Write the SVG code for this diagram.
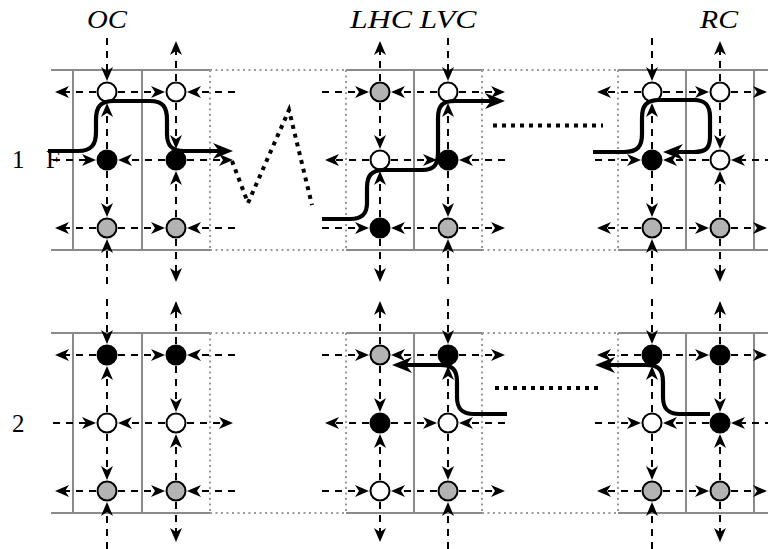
<svg xmlns="http://www.w3.org/2000/svg" width="768" height="549" viewBox="0 0 768 549">
<style>
.rail{stroke:#8a8a8a;stroke-width:2;fill:none}
.rdot{stroke:#9a9a9a;stroke-width:2;stroke-dasharray:2 3.5;fill:none}
.d{stroke:#000;stroke-width:2;stroke-dasharray:7 6;fill:none;marker-end:url(#ah)}
.thick{stroke:#000;stroke-width:4.2;fill:none;marker-end:url(#big)}
.tdot{stroke:#000;stroke-width:4;stroke-dasharray:4 5;fill:none}
.n circle{stroke:#000;stroke-width:2}
.w{fill:#fff}.b{fill:#000}.g{fill:#b3b3b3}
.lab{font-family:"Liberation Serif","DejaVu Serif",serif;font-style:italic;fill:#000}
.num{font-family:"Liberation Serif","DejaVu Serif",serif;fill:#000}
</style>
<defs>
<marker id="ah" markerUnits="userSpaceOnUse" viewBox="-10 -8 18 16" markerWidth="18" markerHeight="16" refX="0" refY="0" orient="auto" overflow="visible">
<path d="M5 0 L-9 -6 L-5 0 L-9 6 Z" fill="#000" stroke="none"/>
</marker>
<marker id="big" markerUnits="userSpaceOnUse" viewBox="-14 -10 24 20" markerWidth="24" markerHeight="20" refX="0" refY="0" orient="auto" overflow="visible">
<path d="M8 0 L-12 -8 L-6 0 L-12 8 Z" fill="#000" stroke="none"/>
</marker>
</defs>
<rect width="768" height="549" fill="#fff"/>

<g id="frames">
<line class="rail" x1="51" y1="70" x2="210" y2="70"/><line class="rail" x1="51" y1="250" x2="210" y2="250"/>
<line class="rdot" x1="210" y1="70" x2="346" y2="70"/><line class="rdot" x1="210" y1="250" x2="346" y2="250"/>
<line class="rail" x1="346" y1="70" x2="482" y2="70"/><line class="rail" x1="346" y1="250" x2="482" y2="250"/>
<line class="rdot" x1="482" y1="70" x2="618" y2="70"/><line class="rdot" x1="482" y1="250" x2="618" y2="250"/>
<line class="rail" x1="618" y1="70" x2="768" y2="70"/><line class="rail" x1="618" y1="250" x2="768" y2="250"/>
<line class="rail" x1="73" y1="70" x2="73" y2="250"/><line class="rail" x1="142" y1="70" x2="142" y2="250"/><line class="rdot" x1="210" y1="70" x2="210" y2="250"/>
<line class="rdot" x1="346" y1="70" x2="346" y2="250"/><line class="rail" x1="414" y1="70" x2="414" y2="250"/><line class="rdot" x1="482" y1="70" x2="482" y2="250"/>
<line class="rdot" x1="618" y1="70" x2="618" y2="250"/><line class="rail" x1="686" y1="70" x2="686" y2="250"/><line class="rail" x1="754" y1="70" x2="754" y2="250"/>

<line class="rail" x1="51" y1="333" x2="210" y2="333"/><line class="rail" x1="51" y1="513" x2="210" y2="513"/>
<line class="rdot" x1="210" y1="333" x2="346" y2="333"/><line class="rdot" x1="210" y1="513" x2="346" y2="513"/>
<line class="rail" x1="346" y1="333" x2="482" y2="333"/><line class="rail" x1="346" y1="513" x2="482" y2="513"/>
<line class="rdot" x1="482" y1="333" x2="618" y2="333"/><line class="rdot" x1="482" y1="513" x2="618" y2="513"/>
<line class="rail" x1="618" y1="333" x2="768" y2="333"/><line class="rail" x1="618" y1="513" x2="768" y2="513"/>
<line class="rail" x1="73" y1="333" x2="73" y2="513"/><line class="rail" x1="142" y1="333" x2="142" y2="513"/><line class="rdot" x1="210" y1="333" x2="210" y2="513"/>
<line class="rdot" x1="346" y1="333" x2="346" y2="513"/><line class="rail" x1="414" y1="333" x2="414" y2="513"/><line class="rdot" x1="482" y1="333" x2="482" y2="513"/>
<line class="rdot" x1="618" y1="333" x2="618" y2="513"/><line class="rail" x1="686" y1="333" x2="686" y2="513"/><line class="rail" x1="754" y1="333" x2="754" y2="513"/>
</g>

<g id="connectors">
<line class="d" x1="107" y1="38" x2="107" y2="76"/><line class="d" x1="107" y1="149" x2="107" y2="108"/><line class="d" x1="107" y1="171" x2="107" y2="212"/><line class="d" x1="107" y1="284" x2="107" y2="244"/>
<line class="d" x1="448" y1="38" x2="448" y2="76"/><line class="d" x1="448" y1="149" x2="448" y2="108"/><line class="d" x1="448" y1="171" x2="448" y2="212"/><line class="d" x1="448" y1="284" x2="448" y2="244"/>
<line class="d" x1="652" y1="38" x2="652" y2="76"/><line class="d" x1="652" y1="149" x2="652" y2="108"/><line class="d" x1="652" y1="171" x2="652" y2="212"/><line class="d" x1="652" y1="284" x2="652" y2="244"/>
<line class="d" x1="176" y1="81" x2="176" y2="46"/><line class="d" x1="176" y1="103" x2="176" y2="144"/><line class="d" x1="176" y1="217" x2="176" y2="176"/><line class="d" x1="176" y1="239" x2="176" y2="277"/>
<line class="d" x1="380" y1="81" x2="380" y2="46"/><line class="d" x1="380" y1="103" x2="380" y2="144"/><line class="d" x1="380" y1="217" x2="380" y2="176"/><line class="d" x1="380" y1="239" x2="380" y2="277"/>
<line class="d" x1="720" y1="81" x2="720" y2="46"/><line class="d" x1="720" y1="103" x2="720" y2="144"/><line class="d" x1="720" y1="217" x2="720" y2="176"/><line class="d" x1="720" y1="239" x2="720" y2="277"/>
<line class="d" x1="107" y1="299" x2="107" y2="339"/><line class="d" x1="107" y1="412" x2="107" y2="371"/><line class="d" x1="107" y1="434" x2="107" y2="475"/><line class="d" x1="107" y1="549" x2="107" y2="507"/>
<line class="d" x1="448" y1="299" x2="448" y2="339"/><line class="d" x1="448" y1="412" x2="448" y2="371"/><line class="d" x1="448" y1="434" x2="448" y2="475"/><line class="d" x1="448" y1="549" x2="448" y2="507"/>
<line class="d" x1="652" y1="299" x2="652" y2="339"/><line class="d" x1="652" y1="412" x2="652" y2="371"/><line class="d" x1="652" y1="434" x2="652" y2="475"/><line class="d" x1="652" y1="549" x2="652" y2="507"/>
<line class="d" x1="176" y1="344" x2="176" y2="306"/><line class="d" x1="176" y1="366" x2="176" y2="407"/><line class="d" x1="176" y1="480" x2="176" y2="439"/><line class="d" x1="176" y1="502" x2="176" y2="537"/>
<line class="d" x1="380" y1="344" x2="380" y2="306"/><line class="d" x1="380" y1="366" x2="380" y2="407"/><line class="d" x1="380" y1="480" x2="380" y2="439"/><line class="d" x1="380" y1="502" x2="380" y2="537"/>
<line class="d" x1="720" y1="344" x2="720" y2="306"/><line class="d" x1="720" y1="366" x2="720" y2="407"/><line class="d" x1="720" y1="480" x2="720" y2="439"/><line class="d" x1="720" y1="502" x2="720" y2="537"/>

<line class="d" x1="96" y1="92" x2="60" y2="92"/><line class="d" x1="118" y1="92" x2="160" y2="92"/><line class="d" x1="235" y1="92" x2="192" y2="92"/>
<line class="d" x1="322" y1="92" x2="364" y2="92"/><line class="d" x1="437" y1="92" x2="396" y2="92"/><line class="d" x1="459" y1="92" x2="500" y2="92"/>
<line class="d" x1="641" y1="92" x2="602" y2="92"/><line class="d" x1="663" y1="92" x2="704" y2="92"/><line class="d" x1="731" y1="92" x2="762" y2="92"/>

<line class="d" x1="96" y1="228" x2="60" y2="228"/><line class="d" x1="118" y1="228" x2="160" y2="228"/><line class="d" x1="235" y1="228" x2="192" y2="228"/>
<line class="d" x1="322" y1="228" x2="364" y2="228"/><line class="d" x1="437" y1="228" x2="396" y2="228"/><line class="d" x1="459" y1="228" x2="500" y2="228"/>
<line class="d" x1="641" y1="228" x2="602" y2="228"/><line class="d" x1="663" y1="228" x2="704" y2="228"/><line class="d" x1="731" y1="228" x2="762" y2="228"/>

<line class="d" x1="96" y1="355" x2="60" y2="355"/><line class="d" x1="118" y1="355" x2="160" y2="355"/><line class="d" x1="235" y1="355" x2="192" y2="355"/>
<line class="d" x1="322" y1="355" x2="364" y2="355"/><line class="d" x1="437" y1="355" x2="396" y2="355"/><line class="d" x1="459" y1="355" x2="500" y2="355"/>
<line class="d" x1="641" y1="355" x2="602" y2="355"/><line class="d" x1="663" y1="355" x2="704" y2="355"/><line class="d" x1="731" y1="355" x2="762" y2="355"/>

<line class="d" x1="96" y1="491" x2="60" y2="491"/><line class="d" x1="118" y1="491" x2="160" y2="491"/><line class="d" x1="235" y1="491" x2="192" y2="491"/>
<line class="d" x1="322" y1="491" x2="364" y2="491"/><line class="d" x1="437" y1="491" x2="396" y2="491"/><line class="d" x1="459" y1="491" x2="500" y2="491"/>
<line class="d" x1="641" y1="491" x2="602" y2="491"/><line class="d" x1="663" y1="491" x2="704" y2="491"/><line class="d" x1="731" y1="491" x2="762" y2="491"/>

<line class="d" x1="53" y1="160" x2="91" y2="160"/><line class="d" x1="165" y1="160" x2="123" y2="160"/><line class="d" x1="187" y1="160" x2="228" y2="160"/>
<line class="d" x1="369" y1="160" x2="330" y2="160"/><line class="d" x1="391" y1="160" x2="432" y2="160"/><line class="d" x1="505" y1="160" x2="464" y2="160"/>
<line class="d" x1="595" y1="160" x2="636" y2="160"/><line class="d" x1="709" y1="160" x2="668" y2="160"/><line class="d" x1="772" y1="160" x2="736" y2="160"/>

<line class="d" x1="53" y1="423" x2="91" y2="423"/><line class="d" x1="165" y1="423" x2="123" y2="423"/><line class="d" x1="187" y1="423" x2="228" y2="423"/>
<line class="d" x1="369" y1="423" x2="330" y2="423"/><line class="d" x1="391" y1="423" x2="432" y2="423"/><line class="d" x1="505" y1="423" x2="464" y2="423"/>
<line class="d" x1="595" y1="423" x2="636" y2="423"/><line class="d" x1="709" y1="423" x2="668" y2="423"/><line class="d" x1="772" y1="423" x2="736" y2="423"/>
</g>

<g id="nodes">
<g id="t-oc-r1c1" class="n"><circle class="w" cx="107" cy="92" r="9.5"/></g>
<g id="t-oc-r1c2" class="n"><circle class="w" cx="176" cy="92" r="9.5"/></g>
<g id="t-oc-r2c1" class="n"><circle class="b" cx="107" cy="160" r="9.5"/></g>
<g id="t-oc-r2c2" class="n"><circle class="b" cx="176" cy="160" r="9.5"/></g>
<g id="t-oc-r3c1" class="n"><circle class="g" cx="107" cy="228" r="9.5"/></g>
<g id="t-oc-r3c2" class="n"><circle class="g" cx="176" cy="228" r="9.5"/></g>

<g id="t-l-r1c1" class="n"><circle class="g" cx="380" cy="92" r="9.5"/></g>
<g id="t-l-r1c2" class="n"><circle class="w" cx="448" cy="92" r="9.5"/></g>
<g id="t-l-r2c1" class="n"><circle class="w" cx="380" cy="160" r="9.5"/></g>
<g id="t-l-r2c2" class="n"><circle class="b" cx="448" cy="160" r="9.5"/></g>
<g id="t-l-r3c1" class="n"><circle class="b" cx="380" cy="228" r="9.5"/></g>
<g id="t-l-r3c2" class="n"><circle class="g" cx="448" cy="228" r="9.5"/></g>

<g id="t-rc-r1c1" class="n"><circle class="w" cx="652" cy="92" r="9.5"/></g>
<g id="t-rc-r1c2" class="n"><circle class="w" cx="720" cy="92" r="9.5"/></g>
<g id="t-rc-r2c1" class="n"><circle class="b" cx="652" cy="160" r="9.5"/></g>
<g id="t-rc-r2c2" class="n"><circle class="w" cx="720" cy="160" r="9.5"/></g>
<g id="t-rc-r3c1" class="n"><circle class="g" cx="652" cy="228" r="9.5"/></g>
<g id="t-rc-r3c2" class="n"><circle class="g" cx="720" cy="228" r="9.5"/></g>

<g id="b-oc-r1c1" class="n"><circle class="b" cx="107" cy="355" r="9.5"/></g>
<g id="b-oc-r1c2" class="n"><circle class="b" cx="176" cy="355" r="9.5"/></g>
<g id="b-oc-r2c1" class="n"><circle class="w" cx="107" cy="423" r="9.5"/></g>
<g id="b-oc-r2c2" class="n"><circle class="w" cx="176" cy="423" r="9.5"/></g>
<g id="b-oc-r3c1" class="n"><circle class="g" cx="107" cy="491" r="9.5"/></g>
<g id="b-oc-r3c2" class="n"><circle class="g" cx="176" cy="491" r="9.5"/></g>

<g id="b-l-r1c1" class="n"><circle class="g" cx="380" cy="355" r="9.5"/></g>
<g id="b-l-r1c2" class="n"><circle class="b" cx="448" cy="355" r="9.5"/></g>
<g id="b-l-r2c1" class="n"><circle class="b" cx="380" cy="423" r="9.5"/></g>
<g id="b-l-r2c2" class="n"><circle class="w" cx="448" cy="423" r="9.5"/></g>
<g id="b-l-r3c1" class="n"><circle class="w" cx="380" cy="491" r="9.5"/></g>
<g id="b-l-r3c2" class="n"><circle class="g" cx="448" cy="491" r="9.5"/></g>

<g id="b-rc-r1c1" class="n"><circle class="b" cx="652" cy="355" r="9.5"/></g>
<g id="b-rc-r1c2" class="n"><circle class="b" cx="720" cy="355" r="9.5"/></g>
<g id="b-rc-r2c1" class="n"><circle class="w" cx="652" cy="423" r="9.5"/></g>
<g id="b-rc-r2c2" class="n"><circle class="b" cx="720" cy="423" r="9.5"/></g>
<g id="b-rc-r3c1" class="n"><circle class="g" cx="652" cy="491" r="9.5"/></g>
<g id="b-rc-r3c2" class="n"><circle class="g" cx="720" cy="491" r="9.5"/></g>
</g>

<g id="paths">
<path class="thick" d="M48 151 H78 C92 151 96 144 96 132 V120 C96 107 100 101 114 101 H150 C163 101 167 107 167 120 V134 C167 145 171 151 184 151 H225"/>
<path class="thick" d="M322 219 H350 C363 219 367 213 367 203 V188 C367 176 371 170 384 170 H422 C435 170 438 164 438 152 V118 C438 106 442 101 455 101 H497"/>
<path class="thick" d="M593 152 H624 C638 152 642 146 642 134 V118 C642 106 646 100 659 100 H694 C706 100 710 106 710 117 V137 C710 148 706 152 694 152 H671"/>
<path class="thick" d="M507 414 H474 C461 414 457 408 457 397 V382 C457 370 453 365 440 365 H400"/>
<path class="thick" d="M710 414 H680 C667 414 663 408 663 397 V382 C663 370 659 365 646 365 H603"/>
<path class="tdot" d="M232 161 L248 203 L289 110 L312 205"/>
<line class="tdot" x1="493" y1="125.5" x2="603" y2="125.5"/>
<line class="tdot" x1="495" y1="388" x2="603" y2="388"/>
</g>

<g id="labels">
<text class="lab" x="107" y="28" font-size="25" text-anchor="middle" textLength="40" lengthAdjust="spacingAndGlyphs">OC</text>
<text class="lab" x="381" y="28" font-size="25" text-anchor="middle" textLength="62" lengthAdjust="spacingAndGlyphs">LHC</text>
<text class="lab" x="448" y="28" font-size="25" text-anchor="middle" textLength="57" lengthAdjust="spacingAndGlyphs">LVC</text>
<text class="lab" x="719" y="28" font-size="25" text-anchor="middle" textLength="38" lengthAdjust="spacingAndGlyphs">RC</text>
<text class="num" x="12" y="168" font-size="25">1</text>
<text class="num" x="46" y="168" font-size="25">F</text>
<text class="num" x="12" y="432" font-size="25">2</text>
</g>
</svg>
